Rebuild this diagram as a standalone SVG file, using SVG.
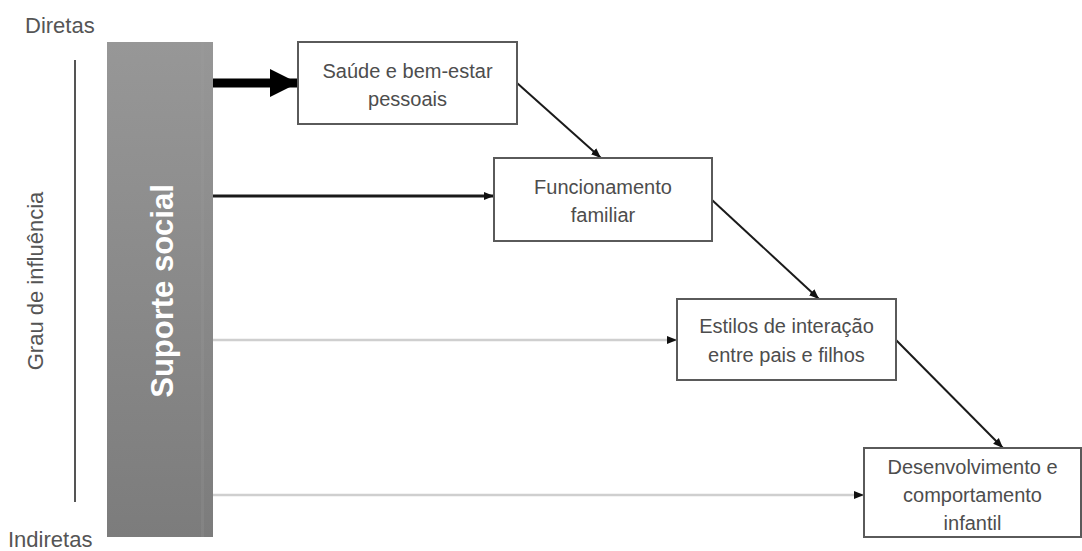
<svg xmlns="http://www.w3.org/2000/svg" width="1082" height="551" viewBox="0 0 1082 551">
<style>
.box{fill:#fff;stroke:#5a5a5a;stroke-width:2}
.lbl{font-family:"Liberation Sans",Arial,sans-serif;font-size:20px;fill:#4d4d4d;text-anchor:middle}
.side{font-family:"Liberation Sans",Arial,sans-serif;font-size:22px;fill:#555}
.dk{stroke:#1a1a1a;fill:none}
.lt{stroke:#cfcfcf;stroke-width:2.5;fill:none}
</style>
<defs>
<linearGradient id="barg" x1="0" y1="0" x2="0" y2="1">
<stop offset="0" stop-color="#979797"/>
<stop offset="1" stop-color="#7c7c7c"/>
</linearGradient>
<marker id="sm" markerUnits="userSpaceOnUse" markerWidth="10" markerHeight="10" viewBox="0 0 10 10" refX="10" refY="5" orient="auto">
<path d="M0,1 L10,5 L0,9 Z" fill="#111"/>
</marker>
<marker id="big" markerUnits="userSpaceOnUse" markerWidth="28" markerHeight="28" viewBox="0 0 28 28" refX="28" refY="14" orient="auto">
<path d="M0,0 L28,14 L0,28 Z" fill="#000"/>
</marker>
</defs>
<text class="side" x="25" y="33">Diretas</text>
<text class="side" x="8" y="547">Indiretas</text>
<line x1="75" y1="60" x2="75" y2="502" stroke="#555" stroke-width="2"/>
<text class="side" transform="translate(43,281) rotate(-90)" text-anchor="middle">Grau de influência</text>
<g id="suporte">
<rect x="107" y="42" width="106" height="495" fill="url(#barg)"/>
<rect x="201" y="42" width="3" height="495" fill="#a0a0a0" opacity="0.2"/>
<text transform="translate(173,291) rotate(-90)" text-anchor="middle" font-family="'Liberation Sans',Arial,sans-serif" font-weight="bold" font-size="31" fill="#fff">Suporte social</text>
</g>
<g id="connectors">
<line x1="213" y1="83" x2="298" y2="83" stroke="#000" stroke-width="9" marker-end="url(#big)"/>
<line x1="213" y1="196" x2="494" y2="196" class="dk" stroke-width="3" marker-end="url(#sm)"/>
<line x1="213" y1="340" x2="677" y2="340" class="lt" marker-end="url(#sm)"/>
<line x1="213" y1="495" x2="864" y2="495" class="lt" marker-end="url(#sm)"/>
<line x1="517" y1="83" x2="601" y2="158" class="dk" stroke-width="2" marker-end="url(#sm)"/>
<line x1="712" y1="200" x2="819" y2="299" class="dk" stroke-width="2" marker-end="url(#sm)"/>
<line x1="896" y1="340" x2="1003" y2="448" class="dk" stroke-width="2" marker-end="url(#sm)"/>
</g>
<g id="saude">
<rect class="box" x="298" y="42" width="219" height="82"/>
<text class="lbl" x="407.5" y="78">Saúde e bem-estar</text>
<text class="lbl" x="407.5" y="106">pessoais</text>
</g>
<g id="funcionamento">
<rect class="box" x="494" y="158" width="218" height="83"/>
<text class="lbl" x="603" y="194">Funcionamento</text>
<text class="lbl" x="603" y="222">familiar</text>
</g>
<g id="estilos">
<rect class="box" x="677" y="299" width="219" height="81"/>
<text class="lbl" x="786.5" y="333">Estilos de interação</text>
<text class="lbl" x="786.5" y="362">entre pais e filhos</text>
</g>
<g id="desenvolvimento">
<rect class="box" x="864" y="448" width="217" height="89"/>
<text class="lbl" x="972.5" y="474">Desenvolvimento e</text>
<text class="lbl" x="972.5" y="502">comportamento</text>
<text class="lbl" x="972.5" y="530">infantil</text>
</g>
</svg>
